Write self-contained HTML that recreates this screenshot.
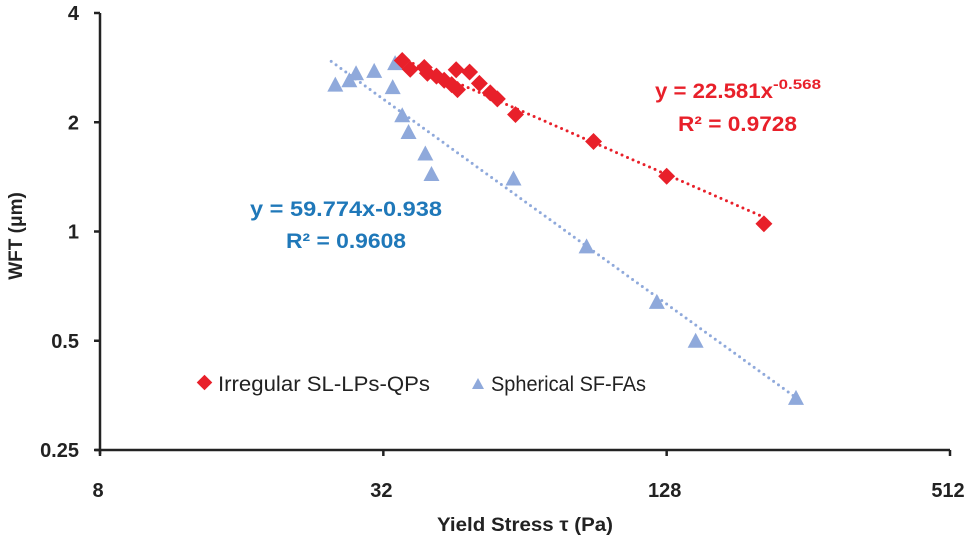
<!DOCTYPE html>
<html><head><meta charset="utf-8"><style>
body{margin:0;background:#fff}
svg{display:block;font-family:"Liberation Sans",sans-serif}
</style></head><body>
<svg id="chart" width="971" height="542" viewBox="0 0 971 542">
<g id="axes"></g>
<g id="trends"></g>
<g id="marks"></g>
<text x="655" y="98" font-size="21" font-weight="bold" fill="#e8202a"><tspan textLength="118" lengthAdjust="spacingAndGlyphs">y = 22.581x</tspan><tspan dy="-9" font-size="14" textLength="48" lengthAdjust="spacingAndGlyphs">-0.568</tspan></text>
<text x="678" y="131" font-size="21" font-weight="bold" fill="#e8202a" textLength="119" lengthAdjust="spacingAndGlyphs">R² = 0.9728</text>
<text x="250" y="216" font-size="21" font-weight="bold" fill="#1f78b9" textLength="192" lengthAdjust="spacingAndGlyphs">y = 59.774x-0.938</text>
<text x="286" y="248" font-size="21" font-weight="bold" fill="#1f78b9" textLength="120" lengthAdjust="spacingAndGlyphs">R² = 0.9608</text>
<g>
<rect x="199" y="377" width="11" height="11" fill="#e8202a" transform="rotate(45 204.5 382.5)"/>
<text x="218" y="391" font-size="21" fill="#222" textLength="212" lengthAdjust="spacingAndGlyphs">Irregular SL-LPs-QPs</text>
<polygon points="472,389 484,389 478,378" fill="#8fa9db"/>
<text x="491" y="391" font-size="21" fill="#222" textLength="155" lengthAdjust="spacingAndGlyphs">Spherical SF-FAs</text>
</g>
<text x="437" y="531" font-size="19" font-weight="bold" fill="#222" textLength="176" lengthAdjust="spacingAndGlyphs">Yield Stress τ (Pa)</text>
<text transform="translate(22 236) rotate(-90)" font-size="19" font-weight="bold" fill="#222" text-anchor="middle">WFT (μm)</text>
</svg>
<script>
const xTicks=[8,32,128,512];
const yTicks=[0.25,0.5,1,2,4];
const xTickLabels=["8","32","128","512"];
const yTickLabels=["0.25","0.5","1","2","4"];
const redX=[35.1,36.5,39.1,39.7,41.5,43.1,44.7,46.0,45.7,48.8,51.2,54.0,55.9,61.1,89.5,128,206];
const redY=[2.96,2.80,2.83,2.73,2.68,2.61,2.54,2.46,2.79,2.75,2.56,2.41,2.32,2.10,1.77,1.42,1.05];
const blueX=[25.3,27.1,28.0,30.6,33.9,33.5,35.1,36.2,39.3,40.5,60.5,86.5,122,147.5,241];
const blueY=[2.54,2.61,2.73,2.77,2.91,2.50,2.09,1.88,1.64,1.44,1.40,0.91,0.64,0.50,0.348];
const redFit=[22.581,-0.568], blueFit=[59.774,-0.938];
const X0=100,X1=950,Y0=450,Y1=13;
const sx=v=>X0+(Math.log2(v)-3)/6*(X1-X0);
const sy=v=>Y0-(Math.log2(v)+2)/4*(Y0-Y1);
const NS="http://www.w3.org/2000/svg";
function mk(tag,parent,attrs){const e=document.createElementNS(NS,tag);for(const k in attrs)e.setAttribute(k,attrs[k]);parent.appendChild(e);return e;}
const axes=document.getElementById('axes');
let a=mk('line',axes,{x1:X0,y1:Y1,x2:X0,y2:Y0+4,stroke:'#222','stroke-width':2.5});


a=mk('line',axes,{x1:X0-5,y1:Y0,x2:X1,y2:Y0,stroke:'#222','stroke-width':2.5});


xTicks.forEach((v,i)=>{
 const t=mk('line',axes,{x1:sx(v),x2:sx(v),y1:Y0,y2:Y0+6,stroke:'#222','stroke-width':2.5});
 
 
 const l=mk('text',axes,{x:sx(v)-2,y:Y0+47,'font-size':20,'font-weight':'bold',fill:'#222','text-anchor':'middle'});
 l.textContent=xTickLabels[i];
 
 
});
yTicks.forEach((v,i)=>{
 const t=mk('line',axes,{x1:X0-6,x2:X0,y1:sy(v),y2:sy(v),stroke:'#222','stroke-width':2.5});
 
 
 const l=mk('text',axes,{x:79,y:sy(v)+7,'font-size':20,'font-weight':'bold',fill:'#222','text-anchor':'end'});
 l.textContent=yTickLabels[i];
 
 
});
const tr=document.getElementById('trends');
function trend(fit,xa,xb,col,name){
 const p=[];for(let i=0;i<=40;i++){const x=xa*Math.pow(xb/xa,i/40);p.push(sx(x).toFixed(1)+','+sy(fit[0]*Math.pow(x,fit[1])).toFixed(1));}
 const e=mk('polyline',tr,{points:p.join(' '),fill:'none',stroke:col,'stroke-width':3,'stroke-dasharray':'0 6','stroke-linecap':'round'});
 
 
}
trend(redFit,Math.min(...redX),Math.max(...redX),'#e8202a','red-trendline');
trend(blueFit,Math.min(...blueX)*0.98,Math.max(...blueX),'#8fa9db','blue-trendline');
const mg=document.getElementById('marks');
blueX.forEach((x,i)=>{const cx=sx(x),cy=sy(blueY[i]);
 const e=mk('polygon',mg,{points:`${cx-8},${cy+7} ${cx+8},${cy+7} ${cx},${cy-8}`,fill:'#8fa9db'});
 
 
});
redX.forEach((x,i)=>{const cx=sx(x),cy=sy(redY[i]);
 const e=mk('rect',mg,{x:cx-6,y:cy-6,width:12,height:12,fill:'#e8202a',transform:`rotate(45 ${cx} ${cy})`});
 
 
});
</script>
</body></html>
